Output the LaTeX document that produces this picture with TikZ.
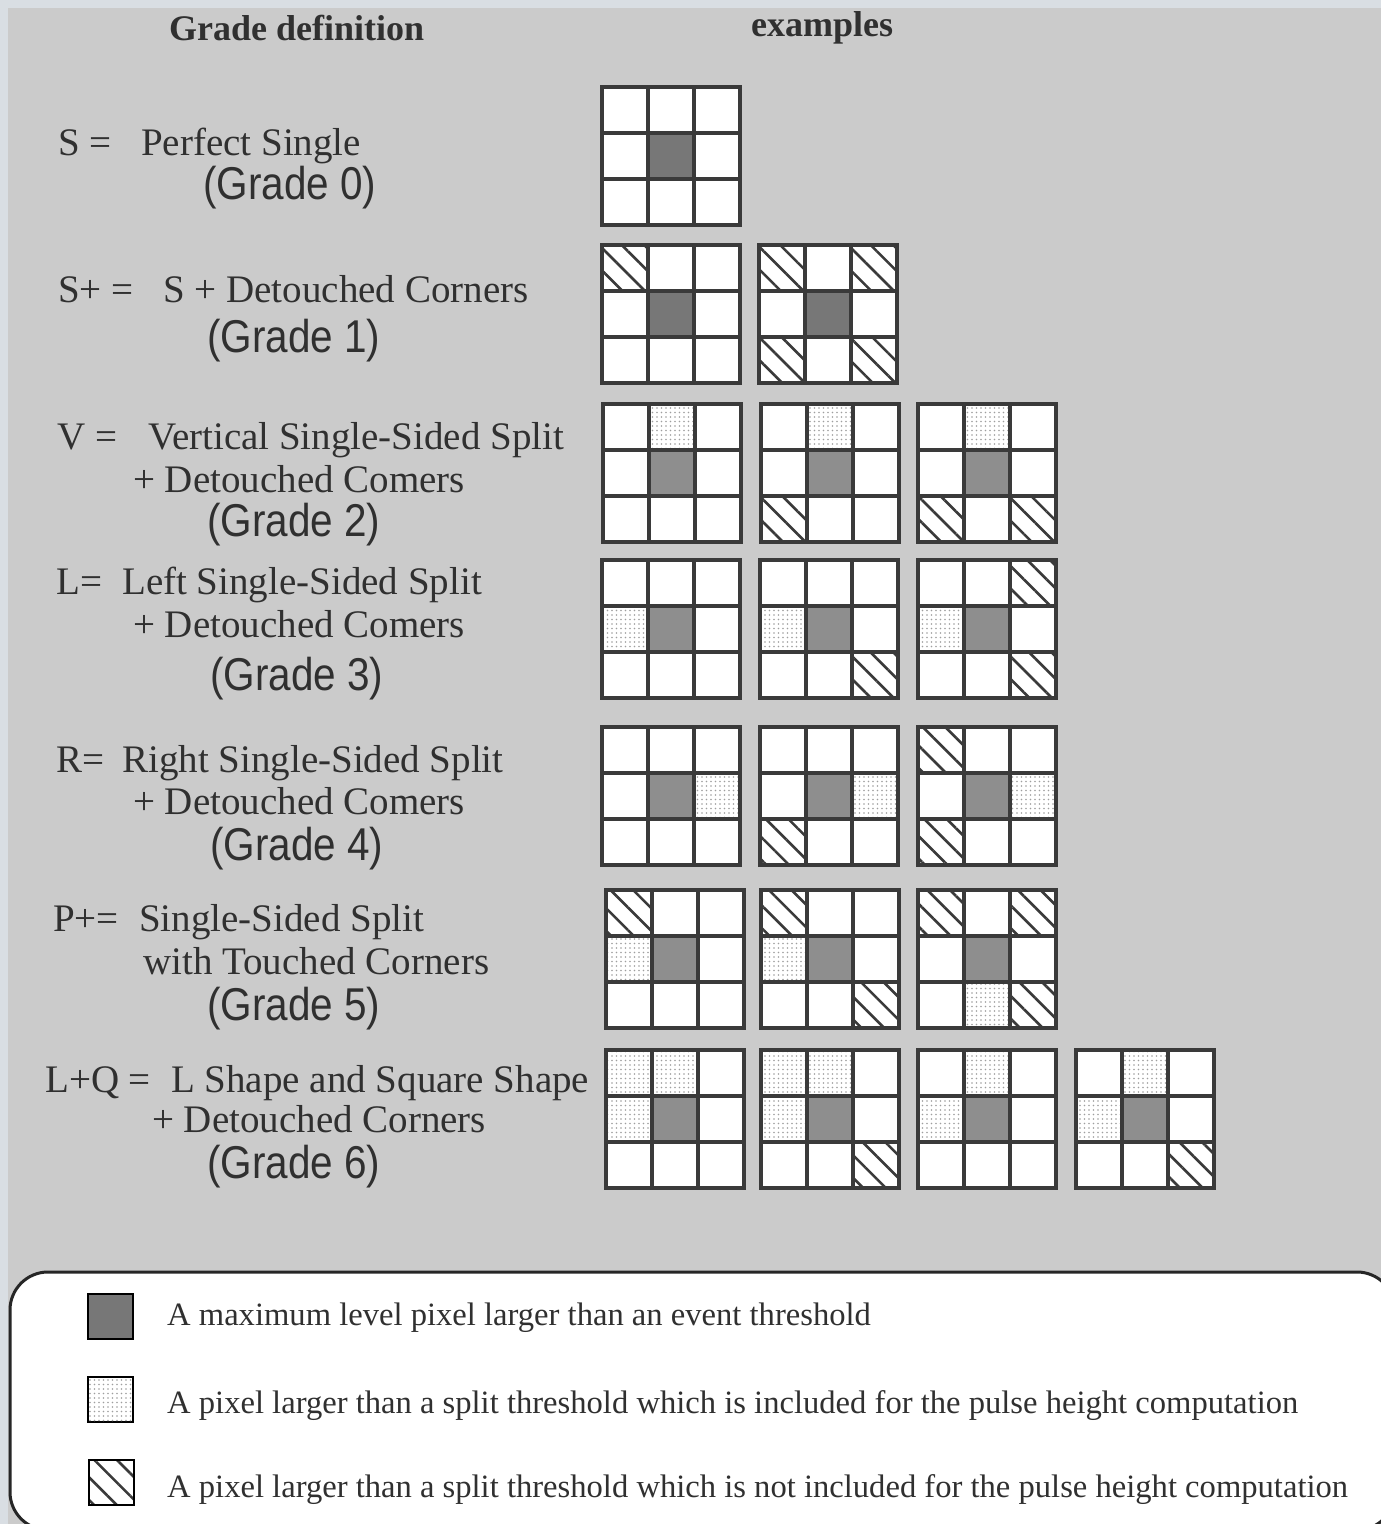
\documentclass[tikz,border=0pt]{standalone}
\usepackage{fontspec}
\setmainfont{Liberation Serif}
\newfontfamily\gradefont[FakeStretch=0.88]{Liberation Sans}
\usetikzlibrary{patterns.meta}
\definecolor{bgout}{HTML}{D9DEE3}
\definecolor{bgmain}{HTML}{CBCBCB}
\definecolor{gridline}{HTML}{3A3A3A}
\definecolor{darkA}{HTML}{777777}
\definecolor{darkB}{HTML}{8E8E8E}
\definecolor{ink}{HTML}{303030}
\tikzset{
 lbl/.style={anchor=base west, inner sep=0pt, text=ink, font=\fontsize{39}{44}\selectfont},
 grd/.style={anchor=base west, inner sep=0pt, text=ink, font=\gradefont\fontsize{46}{50}\selectfont},
 hdr/.style={anchor=base west, inner sep=0pt, text=ink, font=\bfseries\fontsize{36}{40}\selectfont},
 leg/.style={anchor=base west, inner sep=0pt, text=ink, font=\fontsize{32.6}{36}\selectfont},
 frame/.style={minimum width=138pt, minimum height=138pt, inner sep=0pt, draw=none, anchor=north west},
 splitcell/.style={fill=white, postaction={pattern={Dots[distance=4.5pt,radius=0.9pt]}, pattern color=gray!75}},
 hatchcell/.style={pattern={Lines[angle=-45,distance=16pt,line width=2.6pt]}, pattern color=gridline},
 gl/.style={draw=gridline, line width=3.3pt, line cap=rect},
 legsq/.style={draw=black, line width=2.2pt, minimum size=45pt, inner sep=0pt, anchor=north west},
}
\newcommand\pgrid[6]{%
 \node[frame] (#1) at (#2,-#3) {};
 \begin{scope}[shift={(#1.north west)}, x=46pt, y=-46pt]
  \fill[white] (0,0) rectangle (3,3);
  \fill[#4] (1,1) rectangle (2,2);
  \foreach \r/\c in {#5} {\path[splitcell] (\c,\r) rectangle ++(1,1);}
  \foreach \r/\c in {#6} {\path[hatchcell] (\c,\r) rectangle ++(1,1);}
  \foreach \i in {1,2} {\draw[gl] (\i,0) -- (\i,3); \draw[gl] (0,\i) -- (3,\i);}
  \draw[gl] (0,0) rectangle (3,3);
 \end{scope}}
\begin{document}
\begin{tikzpicture}[x=1pt,y=1pt]
\useasboundingbox (0,0) rectangle (1381,-1524);
\clip (0,0) rectangle (1381,-1524);
\fill[bgout] (0,0) rectangle (1381,-1524);
\fill[bgmain] (8,-8) rectangle (1381,-1524);

% headers
\node[hdr] (h1) at (169,-40) {Grade definition};
\node[hdr] (h2) at (751,-36) {examples};

% Grade 0
\node[lbl] (p0) at (58,-155) {S =};
\node[lbl] (t0) at (141,-155) {Perfect Single};
\node[grd] (g0) at (203,-199) {(Grade 0)};
% Grade 1
\node[lbl] (p1) at (58,-302) {S+ =};
\node[lbl] (t1) at (163,-302) {S + Detouched Corners};
\node[grd] (g1) at (207,-352) {(Grade 1)};
% Grade 2
\node[lbl] (p2) at (57,-449) {V =};
\node[lbl] (t2) at (148,-449) {Vertical Single-Sided Split};
\node[lbl] (u2) at (133,-492) {+ Detouched Comers};
\node[grd] (g2) at (207,-536) {(Grade 2)};
% Grade 3
\node[lbl] (p3) at (56,-594) {L=};
\node[lbl] (t3) at (122,-594) {Left Single-Sided Split};
\node[lbl] (u3) at (133,-637) {+ Detouched Comers};
\node[grd] (g3) at (210,-690) {(Grade 3)};
% Grade 4
\node[lbl] (p4) at (56,-772) {R=};
\node[lbl] (t4) at (122,-772) {Right Single-Sided Split};
\node[lbl] (u4) at (133,-814) {+ Detouched Comers};
\node[grd] (g4) at (210,-860) {(Grade 4)};
% Grade 5
\node[lbl] (p5) at (53,-931) {P+=};
\node[lbl] (t5) at (139,-931) {Single-Sided Split};
\node[lbl] (u5) at (143,-974) {with Touched Corners};
\node[grd] (g5) at (207,-1020) {(Grade 5)};
% Grade 6
\node[lbl] (p6) at (45,-1092) {L+Q =};
\node[lbl] (t6) at (171,-1092) {L Shape and Square Shape};
\node[lbl] (u6) at (152,-1132) {+ Detouched Corners};
\node[grd] (g6) at (207,-1178) {(Grade 6)};

% grids
\pgrid{G0a}{602}{87}{darkA}{}{}
\pgrid{G1a}{602}{245}{darkA}{}{0/0}
\pgrid{G1b}{759}{245}{darkA}{}{0/0,0/2,2/0,2/2}
\pgrid{G2a}{603}{404}{darkB}{0/1}{}
\pgrid{G2b}{761}{404}{darkB}{0/1}{2/0}
\pgrid{G2c}{918}{404}{darkB}{0/1}{2/0,2/2}
\pgrid{G3a}{602}{560}{darkB}{1/0}{}
\pgrid{G3b}{760}{560}{darkB}{1/0}{2/2}
\pgrid{G3c}{918}{560}{darkB}{1/0}{0/2,2/2}
\pgrid{G4a}{602}{727}{darkB}{1/2}{}
\pgrid{G4b}{760}{727}{darkB}{1/2}{2/0}
\pgrid{G4c}{918}{727}{darkB}{1/2}{0/0,2/0}
\pgrid{G5a}{606}{890}{darkB}{1/0}{0/0}
\pgrid{G5b}{761}{890}{darkB}{1/0}{0/0,2/2}
\pgrid{G5c}{918}{890}{darkB}{2/1}{0/0,0/2,2/2}
\pgrid{G6a}{606}{1050}{darkB}{0/0,0/1,1/0}{}
\pgrid{G6b}{761}{1050}{darkB}{0/0,0/1,1/0}{2/2}
\pgrid{G6c}{918}{1050}{darkB}{0/1,1/0}{}
\pgrid{G6d}{1076}{1050}{darkB}{0/1,1/0}{2/2}

% legend
\draw[line width=3pt, draw=black!85, fill=white, rounded corners=38pt] (10,-1272) rectangle (1395,-1530);
\node[legsq, fill=darkA] (ld) at (87,-1293) {};
\node[legsq, splitcell] (ls) at (87,-1376) {};
\node[legsq, fill=white, hatchcell] (lh) at (88,-1459) {};
\node[leg] (l1) at (167,-1325) {A maximum level pixel larger than an event threshold};
\node[leg] (l2) at (167,-1413) {A pixel larger than a split threshold which is included for the pulse height computation};
\node[leg] (l3) at (167,-1497) {A pixel larger than a split threshold which is not included for the pulse height computation};
\end{tikzpicture}
\end{document}
